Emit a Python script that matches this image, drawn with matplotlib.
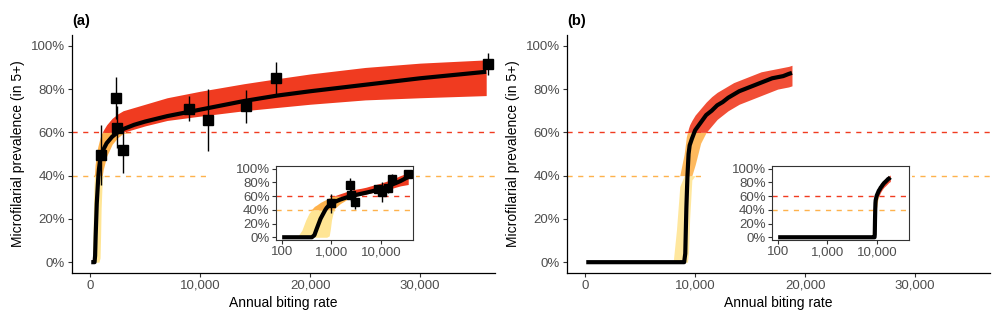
import numpy as np
import matplotlib
matplotlib.use("Agg")
import matplotlib.pyplot as plt
from matplotlib.patches import Rectangle
from matplotlib.ticker import FuncFormatter, FixedLocator, NullLocator

plt.rcParams['font.family'] = ['Liberation Sans', 'DejaVu Sans']

# panel (a): model ensemble envelope + median, fitted to observed data
abr_a = [100, 200, 250, 300, 350, 400, 450, 500, 600, 700, 750, 800, 900, 950, 1000, 1100,
         1200, 1500, 2000, 2500, 3000, 4000, 5000, 7000, 10000, 14000, 17000, 20000, 25000,
         30000, 36000]
hi_a = [0, 0, 0.10, 0.25, 0.35, 0.41, 0.45, 0.47, 0.51, 0.535, 0.545, 0.555, 0.575, 0.583,
        0.59, 0.60, 0.61, 0.635, 0.665, 0.685, 0.70, 0.715, 0.73, 0.76, 0.79, 0.825, 0.848,
        0.87, 0.90, 0.92, 0.935]
med_a = [0, 0, 0, 0, 0, 0, 0.03, 0.12, 0.27, 0.36, 0.40, 0.43, 0.47, 0.48, 0.49, 0.505,
         0.52, 0.55, 0.58, 0.60, 0.615, 0.635, 0.65, 0.675, 0.705, 0.745, 0.77, 0.79, 0.82,
         0.85, 0.88]
lo_a = [0, 0, 0, 0, 0, 0, 0, 0, 0, 0, 0, 0, 0.02, 0.12, 0.25, 0.38, 0.43, 0.49, 0.545, 0.575,
        0.595, 0.615, 0.63, 0.655, 0.675, 0.70, 0.715, 0.73, 0.75, 0.76, 0.77]

# observed prevalence with 95% CI
abr_obs = [1000, 2360, 2480, 3030, 8970, 10700, 14150, 16850, 36200]
prev_obs = [0.495, 0.758, 0.622, 0.518, 0.709, 0.659, 0.72, 0.852, 0.916]
prev_lo = [0.358, 0.66, 0.527, 0.413, 0.653, 0.515, 0.642, 0.778, 0.867]
prev_hi = [0.633, 0.858, 0.72, 0.61, 0.766, 0.801, 0.794, 0.925, 0.966]

# panel (b): stochastic model runs
abr_b = [100, 8000, 8300, 8600, 9000, 9100, 9200, 9300, 9400, 9500, 9700, 10000, 10500,
         11000, 11500, 12000, 12500, 13000, 13500, 14000, 14500, 15000, 15500, 16000, 16500,
         17000, 17500, 18000, 18500, 18800]
hi_b = [0, 0, 0.15, 0.35, 0.50, 0.54, 0.58, 0.60, 0.62, 0.635, 0.655, 0.68, 0.71, 0.74,
        0.765, 0.785, 0.80, 0.815, 0.83, 0.84, 0.85, 0.86, 0.87, 0.88, 0.885, 0.89, 0.895,
        0.90, 0.905, 0.91]
med_b = [0, 0, 0, 0, 0, 0.04, 0.25, 0.40, 0.50, 0.54, 0.57, 0.61, 0.645, 0.68, 0.70, 0.725,
         0.74, 0.76, 0.775, 0.79, 0.80, 0.81, 0.82, 0.83, 0.84, 0.85, 0.855, 0.86, 0.87, 0.875]
lo_b = [0, 0, 0, 0, 0, 0, 0, 0, 0.05, 0.20, 0.38, 0.45, 0.55, 0.60, 0.63, 0.66, 0.68, 0.70,
        0.715, 0.73, 0.74, 0.75, 0.76, 0.77, 0.78, 0.79, 0.80, 0.805, 0.81, 0.815]

thresholds = [0.4, 0.6]
col_yel = "#FFE594"
col_org = "#FEB24C"
col_red = "#F03B20"
tick_col = "#4D4D4D"


def pct(v, pos):
    return "%d%%" % round(v * 100)


def comma(v, pos):
    return "{:,.0f}".format(v)


def draw_band(ax, x, lo, hi, alpha=1.0):
    lo = np.array(lo)
    hi = np.array(hi)
    bands = [(0.0, thresholds[0], col_yel), (thresholds[0], thresholds[1], col_org),
             (thresholds[1], 1.0, col_red)]
    for b0, b1, c in bands:
        ax.fill_between(x, np.clip(lo, b0, b1), np.clip(hi, b0, b1), color=c, lw=0,
                        alpha=alpha, zorder=2)


def draw_panel(ax, x, lo, hi, med, obs=True, lw=3, ms=7, alpha=1.0):
    ax.axhline(thresholds[1], color=col_red, lw=1, ls=(0, (3.7, 4)), zorder=1)
    ax.axhline(thresholds[0], color=col_org, lw=1, ls=(0, (3.7, 4)), zorder=1)
    draw_band(ax, x, lo, hi, alpha)
    ax.plot(x, med, color="black", lw=lw, solid_capstyle="butt", zorder=3)
    if obs:
        ax.vlines(abr_obs, prev_lo, prev_hi, color="black", lw=1, zorder=4)
        ax.plot(abr_obs, prev_obs, "s", color="black", ms=ms, zorder=5)


fig = plt.figure(figsize=(10, 3.23), dpi=100)

H = 323.0
for i, (x, lo, hi, med, obs, tag) in enumerate([(abr_a, lo_a, hi_a, med_a, True, "(a)"),
                                               (abr_b, lo_b, hi_b, med_b, False, "(b)")]):
    left = 0.072 + i * 0.495
    ax = fig.add_axes([left, 50 / H, 0.423, 238 / H])
    draw_panel(ax, x, lo, hi, med, obs=obs, alpha=1.0 if obs else 0.9)
    ax.set_xlim(-1650, 36800)
    ax.set_ylim(-0.05, 1.05)
    ax.xaxis.set_major_locator(FixedLocator([0, 10000, 20000, 30000]))
    ax.yaxis.set_major_locator(FixedLocator([0, 0.2, 0.4, 0.6, 0.8, 1.0]))
    ax.xaxis.set_major_formatter(FuncFormatter(comma))
    ax.yaxis.set_major_formatter(FuncFormatter(pct))
    for s in ["top", "right"]:
        ax.spines[s].set_visible(False)
    for s in ["left", "bottom"]:
        ax.spines[s].set_linewidth(0.9)
    ax.tick_params(length=3, width=0.8, colors="#333333", labelcolor=tick_col,
                   labelsize=9.5, pad=2)
    ax.set_xlabel("Annual biting rate", fontsize=10, labelpad=3)
    ax.set_ylabel("Microfilarial prevalence (in 5+)", fontsize=10, labelpad=4)
    fig.text(left, 1 - 21 / H, tag, fontsize=10.5, fontweight="bold", va="center", ha="left")

    # white backing for the inset, covers the dashed lines
    fig.add_artist(Rectangle((0.207 + i * 0.496, 55 / H), 0.209, 113 / H,
                             transform=fig.transFigure, facecolor="white",
                             edgecolor="none", zorder=1))
    ins = fig.add_axes([0.276 + i * 0.496, 83 / H, 0.137, 74 / H], zorder=2)
    draw_panel(ins, x, lo, hi, med, obs=obs, lw=3, ms=5.5, alpha=1.0 if obs else 0.9)
    ins.set_xscale("log")
    ins.set_xlim(75, 45000)
    ins.set_ylim(-0.04, 1.04)
    ins.xaxis.set_major_locator(FixedLocator([100, 1000, 10000]))
    ins.xaxis.set_minor_locator(NullLocator())
    ins.yaxis.set_major_locator(FixedLocator([0, 0.2, 0.4, 0.6, 0.8, 1.0]))
    ins.xaxis.set_major_formatter(FuncFormatter(comma))
    ins.yaxis.set_major_formatter(FuncFormatter(pct))
    for s in ins.spines.values():
        s.set_linewidth(0.8)
        s.set_color("#333333")
    ins.tick_params(length=3, width=0.8, colors="#333333", labelcolor=tick_col,
                    labelsize=9.5, pad=1.5)

fig.savefig("out.png", dpi=100)
